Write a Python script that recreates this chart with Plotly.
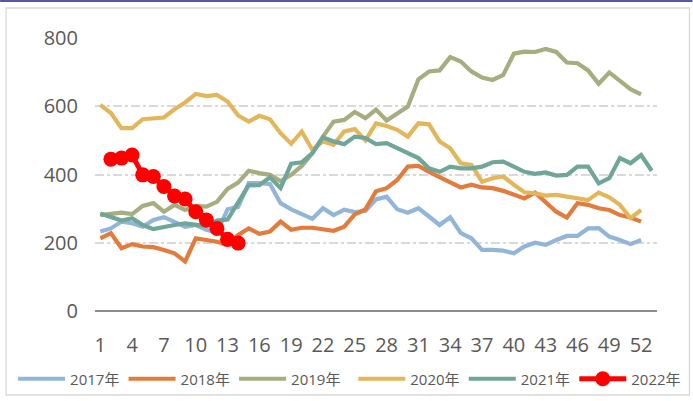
import plotly.graph_objects as go

# week numbers on the category axis (2021 has a 53rd week)
weeks = list(range(1, 54))
tick_weeks = list(range(1, 54, 3))

s2017 = [233, 242, 262, 257, 247, 267, 275, 262, 247, 252, 238, 230, 298, 305, 375, 375, 372, 316,
         298, 284, 270, 301, 281, 297, 290, 293, 327, 335, 298, 288, 301, 277, 252, 275, 228, 213,
         179, 179, 177, 169, 189, 200, 194, 208, 220, 220, 242, 243, 218, 208, 196, 208]
s2018 = [213, 228, 184, 196, 189, 187, 179, 169, 145, 213, 208, 203, 194, 223, 242, 226, 233, 262,
         238, 244, 244, 240, 235, 247, 283, 298, 351, 360, 384, 423, 425, 408, 394, 377, 362, 370,
         362, 360, 352, 340, 330, 347, 318, 291, 274, 316, 311, 301, 296, 281, 274, 262]
s2019 = [281, 283, 288, 284, 308, 316, 291, 311, 296, 308, 306, 320, 358, 376, 411, 404, 399, 381,
         399, 425, 462, 511, 555, 560, 583, 565, 590, 558, 580, 599, 679, 702, 705, 744, 731, 702,
         684, 677, 692, 754, 760, 759, 768, 759, 728, 726, 705, 666, 699, 675, 650, 635]
s2020 = [604, 580, 536, 536, 562, 565, 567, 591, 611, 636, 630, 633, 614, 573, 555, 572, 562, 521,
         490, 526, 472, 497, 487, 526, 533, 500, 550, 542, 531, 511, 550, 547, 497, 477, 433, 428,
         379, 389, 394, 370, 348, 345, 338, 340, 335, 330, 325, 347, 333, 311, 272, 296]
s2021 = [286, 275, 265, 272, 252, 240, 247, 252, 257, 252, 249, 265, 268, 318, 368, 369, 392, 360,
         432, 436, 463, 509, 497, 489, 511, 507, 489, 492, 477, 460, 448, 418, 408, 423, 418, 418,
         423, 436, 438, 423, 408, 402, 406, 397, 399, 423, 423, 374, 389, 448, 433, 457, 411]
s2022 = [None, 445, 448, 457, 399, 394, 365, 337, 328, 291, 267, 242, 210, 199]

series = [
    ("2017年", s2017, "#92B6DA", "legend"),
    ("2018年", s2018, "#E27B3C", "legend"),
    ("2019年", s2019, "#A4AE7F", "legend"),
    ("2020年", s2020, "#E4B65B", "legend2"),
    ("2021年", s2021, "#70A697", "legend2"),
]

fig = go.Figure()
for name, vals, color, leg in series:
    fig.add_trace(go.Scatter(
        x=weeks[:len(vals)], y=vals, name=name, mode="lines",
        line=dict(color=color, width=4.2), legend=leg,
    ))

fig.add_trace(go.Scatter(
    x=weeks[:len(s2022)], y=s2022, name="2022年", mode="lines+markers",
    line=dict(color="#FF0000", width=5),
    marker=dict(color="#FF0000", size=15),
    legend="legend2",
))

# plot area is 95..657.5 px wide, 38..311 px tall
def px_x(px):
    return (px - 95) / 562.5

def px_y(py):
    return (311 - py) / 273

shapes = [
    # light frame round the chart
    dict(type="rect", xref="paper", yref="paper",
         x0=px_x(6), x1=px_x(690), y0=px_y(395), y1=px_y(8),
         line=dict(color="#D9D9D9", width=1.3), layer="below"),
    # thin purple strip at the very top
    dict(type="rect", xref="paper", yref="paper",
         x0=px_x(0), x1=px_x(693), y0=px_y(2), y1=px_y(0),
         fillcolor="#5558A8", line=dict(width=0)),
]

legend_style = dict(
    orientation="h", yanchor="middle", y=px_y(379), xanchor="left",
    font=dict(size=15, color="#595959"),
    entrywidth=48.5, entrywidthmode="pixels", itemwidth=47,
    bgcolor="rgba(0,0,0,0)",
)

fig.update_layout(
    width=693, height=401,
    margin=dict(l=95, r=35.5, t=38, b=90, autoexpand=False),
    paper_bgcolor="white", plot_bgcolor="white",
    font=dict(family="Open Sans, Noto Sans CJK SC", color="#595959"),
    showlegend=True,
    hovermode=False,
    legend=dict(x=px_x(13), **legend_style),
    legend2=dict(x=px_x(13 + 3 * 113.5), **legend_style),
    xaxis=dict(
        range=[0.5, 53.5], tickmode="array", tickvals=tick_weeks,
        ticktext=[str(w) for w in tick_weeks],
        showgrid=False, zeroline=False, showline=False,
        tickfont=dict(size=20, color="#595959"),
        ticks="outside", ticklen=16, tickcolor="rgba(0,0,0,0)",
    ),
    yaxis=dict(
        range=[0, 800], tickvals=[0, 200, 400, 600, 800],
        showgrid=True, gridcolor="#D9D9D9", gridwidth=1.5, griddash="dashdot",
        zeroline=True, zerolinecolor="#8C8C8C", zerolinewidth=2,
        showline=False,
        ticks="outside", ticklen=12, tickcolor="rgba(0,0,0,0)",
        tickfont=dict(size=20, color="#595959"),
    ),
    shapes=shapes,
)

# the page's default body margin would push the figure 8px off the corner
fig.write_html("out.html", config={"displayModeBar": False},
               post_script="document.body.style.margin='0';")
